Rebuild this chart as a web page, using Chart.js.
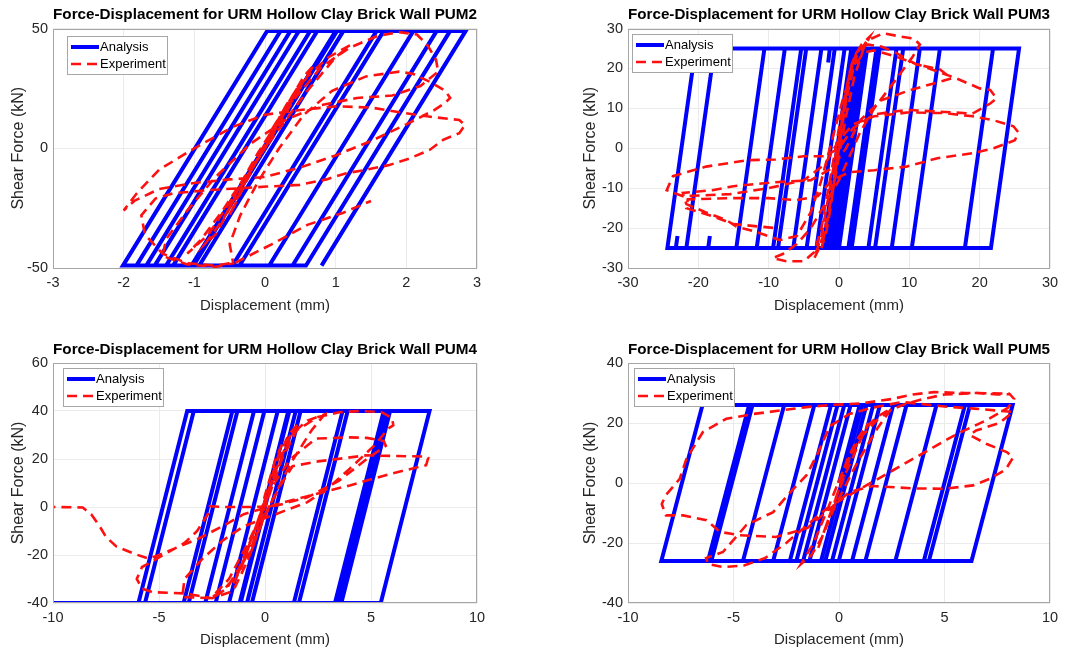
<!DOCTYPE html>
<html>
<head>
<meta charset="utf-8">
<script src="https://cdn.jsdelivr.net/npm/chart.js@4.4.1/dist/chart.umd.min.js"></script>
<style>
  body { margin: 0; background: #fff; }
  #page { position: relative; width: 1082px; height: 653px; overflow: hidden; }
  canvas { position: absolute; }
</style>
</head>
<body>
<div id="page">
  <canvas id="pum2" width="540" height="325" style="left:0;top:0"></canvas>
  <canvas id="pum3" width="542" height="325" style="left:540px;top:0"></canvas>
  <canvas id="pum4" width="540" height="328" style="left:0;top:325px"></canvas>
  <canvas id="pum5" width="542" height="328" style="left:540px;top:325px"></canvas>
</div>
<script>
// ---- data: [displacement mm, shear force kN] ----
const pum2XTicks = [-3, -2, -1, 0, 1, 2, 3];
const pum2YTicks = [-50, 0, 50];
const pum2Analysis = [
  [0,0],[1.02,49],[1.03,49],[-1.01,-49],[-1.04,-49],[1.0,49],[1.11,49],[-0.93,-49],
  [-1.30,-49],[0.74,49],[1.58,49],[-0.46,-49],[-1.40,-49],[0.64,49],[1.68,49],[-0.36,-49],
  [-1.56,-49],[0.48,49],[2.10,49],[0.06,-49],[-1.68,-49],[0.36,49],[2.43,49],[0.39,-49],
  [-1.82,-49],[0.22,49],[2.62,49],[0.58,-49],[-2.01,-49],[0.03,49],[2.84,49],[0.80,-49]
];
const pum2Experiment = [
  [0,0],[0.2,12],[0.4,22],[0.5,27],[0.3,18],[0,2],[-0.2,-10],[-0.4,-22],[-0.5,-28],[-0.35,-18],
  [-0.1,-4],[0.1,8],[0.35,20],[0.55,30],[0.7,35],[0.5,26],[0.2,12],[-0.1,-2],[-0.35,-15],[-0.55,-28],
  [-0.7,-36],[-0.85,-40],[-0.6,-30],[-0.3,-14],[0,0],[0.3,16],[0.6,30],[0.9,38],[1.2,43],[1.0,38],
  [0.6,24],[0.2,8],[-0.2,-8],[-0.6,-26],[-0.9,-38],[-1.1,-44],[-0.8,-36],[-0.4,-18],[0,0],[0.4,20],
  [0.8,34],[1.2,42],[1.6,47],[1.9,48.5],[2.15,47.5],[2.3,43],[2.42,37],[2.45,32],[2.2,26],[1.8,22],
  [1.3,21],[0.8,18],[0.3,12],[-0.2,2],[-0.7,-12],[-1.1,-26],[-1.4,-38],[-1.45,-45],[-1.1,-48.5],[-0.7,-49.5],
  [-0.45,-48],[-0.5,-40],[-0.35,-28],[-0.1,-14],[0.2,0],[0.55,14],[0.95,24],[1.43,30],[1.9,32],[2.1,31],
  [2.33,27.8],[2.55,24],[2.62,21],[2.55,19],[2.4,16],[2.0,10],[1.5,3],[1.0,-3],[0.5,-8],[0,-12],
  [-0.5,-13],[-1.0,-14.5],[-1.5,-17],[-1.85,-22],[-2.0,-26],[-1.82,-19],[-1.5,-9],[-1.0,0],[-0.45,9],[0,14],
  [0.5,16],[1.0,17.5],[1.5,17],[1.9,15],[2.38,13],[2.75,11.8],[2.83,9.7],[2.75,6.3],[2.52,3.5],[2.33,-0.7],
  [2.05,-4.2],[1.76,-7],[1.43,-9],[1.15,-10.4],[0.87,-13],[0.49,-15.3],[0.02,-16],[-0.36,-16.7],[-0.8,-17.5],[-1.3,-18.8],
  [-1.55,-21],[-1.75,-28],[-1.7,-36],[-1.45,-44],[-1.1,-48],[-0.7,-49],[-0.4,-47.5],[0.1,-40],[0.6,-32],[1.1,-27],[1.5,-22]
];

const pum3XTicks = [-30, -20, -10, 0, 10, 20, 30];
const pum3YTicks = [-30, -20, -10, 0, 10, 20, 30];
const pum3Analysis = [
  [0,0],[2.0,25],[3.0,25],[-1.0,-25],[-1.8,-25],[2.2,25],[3.5,25],[-0.5,-25],[-2.0,-25],[2.0,25],
  [4.0,25],[0,-25],[-2.25,-25],[1.75,25],[2.5,25],[-1.5,-25],[-3.2,-25],[0.8,25],[5.34,25],
  [1.34,-25],[-4.6,-25],[-0.6,25],[5.8,25],[1.8,-25],[-6.5,-25],[-2.5,25],[8.18,25],[4.18,-25],[-8.66,-25],
  [-4.66,25],[9.13,25],[5.13,-25],[-9.37,-25],[-5.37,25],[11.5,25],[7.5,-25],[-11.7,-25],[-7.7,25],[-1.3,25],
  [-1.54,21.5],[-1.3,25],[14.35,25],[10.35,-25],[-14.6,-25],[-10.6,25],[21.9,25],[17.9,-25],[-18.6,-25],[-18.36,-22],
  [-18.6,-25],[-21.7,-25],[-17.7,25],[25.6,25],[21.6,-25],[-23.2,-25],[-22.96,-22],[-23.2,-25],[-24.4,-25],[-20.4,25],[-17.7,25]
];
const pum3Experiment = [
  [0,0],[0.5,8],[1.2,16],[1.8,21],[2.5,24],[1.5,18],[0.5,6],[-0.5,-6],[-1.2,-15],[-1.8,-21],
  [-2.5,-25],[-1.5,-17],[-0.5,-5],[0.5,8],[1.3,17],[2.2,23],[3.2,26],[4.4,28],[3.5,25],[2.2,18],
  [1.0,8],[0,-2],[-1.0,-12],[-2.0,-20],[-2.8,-25],[-3.5,-27.5],[-2.5,-22],[-1.5,-12],[-0.5,-2],[0.5,7],
  [1.5,16],[2.5,23],[4,27],[6.3,28.8],[8.7,28],[10.6,27.5],[11.5,26],[10.5,23],[8,17],[5,10],
  [3,4],[1.5,-2],[0,-8],[-2,-14],[-4,-20],[-6,-24],[-8,-26.5],[-9.4,-27.5],[-7.5,-28.3],[-5,-28.3],
  [-3.5,-26],[-2.5,-20],[-1.5,-10],[-0.5,0],[0.5,10],[1.5,19],[2.5,24],[4,26],[6,25.5],[8,24],
  [11,21],[14.3,19.8],[16,17.5],[14,16.5],[10,14.5],[6,12],[3,7],[1,0],[-1,-5],[-4,-8],
  [-9,-8.5],[-15,-9.5],[-18,-10.5],[-22.2,-11.2],[-21.7,-14],[-19,-16],[-16,-18],[-14.6,-19.6],[-11.7,-21],[-8.4,-23],
  [-6,-22],[-4,-16],[-2.5,-8],[-1,2],[0.5,12],[2,20],[3.5,24],[5,24.5],[8,23],[12,20.5],
  [16.7,17.5],[20,15],[21.5,14.6],[22.4,12.5],[21.5,11.2],[19,8.7],[14,9.2],[9.6,9.6],[5,8.5],[2,5],
  [0,0],[-2,-2],[-5,-2],[-9,-2.8],[-13,-3],[-18.9,-4.6],[-23.6,-7],[-24.5,-10.5],[-22.2,-12],[-15.5,-11.5],
  [-10,-10],[-5,-8],[-2,-4],[0,2],[2,6],[5,8],[10,9],[15,8.8],[19,8],[22,7],
  [24.8,5.5],[25.5,4],[25,2],[22,0],[19,-1.25],[14,-2.5],[9.6,-4.6],[5,-5.5],[1.5,-6],[-1,-8],
  [-3,-12],[-6,-13],[-10,-12.5],[-15,-12.5],[-21.5,-12.8],[-21.7,-15],[-18,-17],[-15,-19],[-12,-19.5],[-9,-20]
];

const pum4XTicks = [-10, -5, 0, 5, 10];
const pum4YTicks = [-40, -20, 0, 20, 40, 60];
const pum4Analysis = [
  [0,0],[1.15,40],[-1.15,-40],[-1.2,-40],[1.1,40],[1.45,40],[-0.85,-40],[-1.7,-40],[0.6,40],[1.68,40],
  [-0.62,-40],[-2.33,-40],[-0.03,40],[3.66,40],[1.36,-40],[-2.82,-40],[-0.52,40],[3.9,40],[1.6,-40],[-3.6,-40],
  [-1.3,40],[5.6,40],[3.3,-40],[-3.84,-40],[-1.54,40],[5.79,40],[3.49,-40],[-5.66,-40],[-3.36,40],[5.9,40],
  [3.6,-40],[-5.97,-40],[-3.67,40],[7.76,40],[5.46,-40],[-10,-40]
];
const pum4Experiment = [
  [0,0],[0.4,15],[0.8,26],[0.5,20],[0,5],[-0.4,-10],[-0.8,-22],[-0.5,-15],[0,0],[0.6,20],
  [1.1,30],[1.6,35],[1.0,25],[0.2,8],[-0.5,-10],[-1.1,-25],[-1.5,-32],[-1.0,-22],[-0.3,-5],[0.5,15],
  [1.2,30],[2.0,36],[2.8,38.5],[2.2,32],[1.2,18],[0.3,2],[-0.5,-14],[-1.3,-28],[-2.0,-35],[-2.5,-37.5],
  [-1.7,-30],[-0.8,-15],[0,0],[0.8,20],[1.5,32],[2.5,37.5],[3.5,39.5],[4.5,40],[5.5,39.5],[6,37],
  [6.05,34],[5.8,32.6],[5.2,26],[4,16],[3,8],[2,2],[0.5,-3],[-1,-8],[-2,-14],[-3,-22],
  [-3.8,-30],[-3.9,-37.5],[-2.5,-38],[-1.8,-34],[-1.2,-25],[-0.5,-10],[0.3,8],[1.2,20],[2.4,28.5],[4,29],
  [4.8,28.8],[5.6,27.5],[5.7,25.5],[4.8,20],[3.5,11],[2,4],[0.5,0.5],[-0.6,0],[-1.9,0],[-2.6,0.3],
  [-2.7,-3],[-3.2,-10],[-3.8,-15],[-5,-21],[-5.8,-25],[-6.05,-30],[-5.8,-34],[-5.3,-35.5],[-3.8,-36],[-2.5,-38],
  [-1.5,-35],[-0.8,-22],[0,-3],[0.8,10],[1.3,17],[2.5,19],[4.76,21.5],[7.6,21],[7.7,20.5],[7.6,17.4],
  [6,14],[4,9],[2,4.5],[0.5,1],[-1,-3],[-2,-8],[-3.1,-13],[-5,-20],[-5.5,-21.5],[-6.2,-19.4],
  [-7,-16.5],[-7.5,-12.5],[-7.8,-8],[-8.2,-3],[-8.6,-0.2],[-10,0]
];

const pum5XTicks = [-10, -5, 0, 5, 10];
const pum5YTicks = [-40, -20, 0, 20, 40];
const pum5Analysis = [
  [0,0],[0.98,26],[1.1,26],[-0.85,-26],[-1.4,-26],[0.55,26],[1.3,26],[-0.65,-26],[-1.7,-26],[0.25,26],
  [1.62,26],[-0.33,-26],[-2.02,-26],[-0.07,26],[1.94,26],
  [-0.01,-26],[-2.33,-26],[-0.38,26],[2.57,26],[0.62,-26],[-3.12,-26],[-1.17,26],[3.2,26],[1.25,-26],[-4.55,-26],
  [-2.6,26],[4.62,26],[2.67,-26],[-6.05,-26],[-4.1,26],[5.97,26],[4.02,-26],[-6.21,-26],[-4.26,26],[6.21,26],
  [4.26,-26],[-8.42,-26],[-6.47,26],[8.23,26],[6.28,-26],[3.0,-26]
];
const pum5Experiment = [
  [0,0],[0.4,8],[0.9,15],[1.4,20],[1.0,14],[0.3,3],[-0.3,-8],[-0.7,-16],[-1.0,-22],[-0.6,-14],
  [0,-2],[0.6,10],[1.2,18],[1.8,22],[2.5,25],[1.8,18],[0.8,6],[-0.2,-8],[-0.8,-18],[-1.3,-24],
  [-1.8,-27],[-1.2,-20],[-0.5,-8],[0.3,6],[1.0,15],[1.8,21],[2.5,24.5],[3.2,26.5],[4,28],[5,29.5],
  [6.5,30],[7.5,29.5],[8.1,29.6],[8.3,28],[8,25],[7,21],[5.5,16],[4,10],[2.5,4],[1,-2],
  [-0.5,-8],[-1.5,-14],[-2.5,-20],[-3.5,-25],[-4.5,-27.5],[-5.5,-28],[-6.2,-27],[-6.3,-25],[-5.5,-23],[-4.39,-14],
  [-3.12,-9.7],[-2.3,-3],[-1.54,2.6],[-1,10],[-0.43,19],[0.5,23],[1.5,25],[3,27],[5,25.5],[6.4,24.8],
  [8.25,23.7],[7.6,20],[6.5,17.5],[6.2,16],[7,13],[7.95,10.3],[8.25,8.5],[7.9,4.5],[7.15,1.4],[6.36,-0.8],
  [5,-1.9],[3.5,-1.8],[1.6,-1],[0.5,-3],[-0.5,-9],[-1.5,-15],[-3,-18],[-4.7,-17.4],[-5.64,-16.3],[-6.28,-12.4],
  [-7.39,-10.8],[-8.2,-10.8],[-8.4,-7],[-8.2,-4],[-7.55,1.4],[-7.23,8.1],[-6.45,17],[-5.34,21.4],[-4.07,23],[-1.54,25.3],
  [-0.43,26],[1,26.5],[2.5,28],[3.5,29.5],[4.5,30.3],[6,30],[8.1,29.8]
];

// ---- helpers ----
const FONT = '"Liberation Sans", Arial, sans-serif';
const toXY = pts => pts.map(p => ({ x: p[0], y: p[1] }));

// legend box drawn inside the axes, top-left like the original
const insideLegend = {
    id: 'insideLegend',
    afterDraw(chart, args, opts) {
        const { ctx, chartArea } = chart;
        const x = Math.round(chartArea.left + opts.dx), y = Math.round(chartArea.top + opts.dy);
        ctx.save();
        ctx.fillStyle = '#fff';
        ctx.fillRect(x, y, 100, 38);
        ctx.strokeStyle = '#a6a6a6';
        ctx.lineWidth = 1;
        ctx.strokeRect(x + 0.5, y + 0.5, 100, 38);
        chart.data.datasets.forEach((ds, i) => {
            const ry = y + 11 + i * 17;
            ctx.beginPath();
            ctx.setLineDash(ds.borderDash || []);
            ctx.lineWidth = ds.borderWidth;
            ctx.strokeStyle = ds.borderColor;
            ctx.moveTo(x + 4, ry);
            ctx.lineTo(x + 32, ry);
            ctx.stroke();
            ctx.setLineDash([]);
            ctx.fillStyle = '#000';
            ctx.font = '13px ' + FONT;
            ctx.textBaseline = 'middle';
            ctx.fillText(ds.label, x + 33, ry);
        });
        ctx.restore();
    }
};

// grey box round the axes (MATLAB "box on")
const axesBox = {
    id: 'axesBox',
    afterDatasetsDraw(chart) {
        const { ctx, chartArea: a } = chart;
        ctx.save();
        ctx.strokeStyle = '#a6a6a6';
        ctx.lineWidth = 1;
        ctx.strokeRect(Math.round(a.left) + 0.5, Math.round(a.top) + 0.5,
            Math.round(a.right - a.left) - 1, Math.round(a.bottom - a.top) - 1);
        ctx.restore();
    }
};

function makeChart(id, title, analysis, experiment, xTicks, yTicks, box) {
    const ctx = document.getElementById(id).getContext('2d');
    const w = ctx.canvas.width, h = ctx.canvas.height;
    new Chart(ctx, {
        type: 'scatter',
        data: {
            datasets: [{
                label: 'Analysis',
                data: toXY(analysis),
                showLine: true,
                borderColor: '#0000ff',
                borderWidth: 4,
                pointRadius: 0,
                order: 2
            }, {
                label: 'Experiment',
                data: toXY(experiment),
                showLine: true,
                borderColor: '#ff1010',
                borderWidth: 2.6,
                borderDash: [10, 6],
                pointRadius: 0,
                order: 1
            }]
        },
        options: {
            responsive: false,
            animation: false,
            devicePixelRatio: 1,
            layout: { padding: { left: box.padL, right: w - box.right, top: box.padT, bottom: 0 } },
            plugins: {
                legend: { display: false },
                tooltip: { enabled: false },
                title: {
                    display: true,
                    text: title,
                    fullSize: false,
                    color: '#000',
                    font: { family: FONT, size: 15.5, weight: 'bold' },
                    padding: box.titlePad
                },
                insideLegend: { dx: box.legend[0], dy: box.legend[1] }
            },
            scales: {
                x: {
                    type: 'linear',
                    min: xTicks[0],
                    max: xTicks[xTicks.length - 1],
                    afterBuildTicks: s => { s.ticks = xTicks.map(v => ({ value: v })); },
                    afterFit: s => { s.height = h - box.bottom; },
                    grid: { color: '#ebebeb', drawTicks: false },
                    border: { display: false },
                    ticks: { color: '#262626', font: { family: FONT, size: 14.5 }, padding: 6, maxRotation: 0 },
                    title: { display: true, text: 'Displacement (mm)', color: '#262626',
                        font: { family: FONT, size: 15 }, padding: { top: 0, bottom: box.xTitleBottom } }
                },
                y: {
                    type: 'linear',
                    min: yTicks[0],
                    max: yTicks[yTicks.length - 1],
                    afterBuildTicks: s => { s.ticks = yTicks.map(v => ({ value: v })); },
                    afterFit: s => { s.width = box.left - box.padL; },
                    grid: { color: '#ebebeb', drawTicks: false },
                    border: { display: false },
                    ticks: { color: '#262626', font: { family: FONT, size: 14.5 }, padding: 5 },
                    title: { display: true, text: 'Shear Force (kN)', color: '#262626',
                        font: { family: FONT, size: 16 }, padding: { top: 9.4, bottom: 0 } }
                }
            }
        },
        plugins: [axesBox, insideLegend]
    });
}

const topRow = { padT: 0, titlePad: { top: 5.7, bottom: 4.2 }, bottom: 268, xTitleBottom: 10 };
const bottomRow = { padT: 8, titlePad: { top: 7.7, bottom: 3.7 }, bottom: 278, xTitleBottom: 4 };

makeChart('pum2', 'Force-Displacement for URM Hollow Clay Brick Wall PUM2', pum2Analysis, pum2Experiment,
    pum2XTicks, pum2YTicks, Object.assign({ padL: 0, left: 53, right: 477, legend: [14, 7] }, topRow));
makeChart('pum3', 'Force-Displacement for URM Hollow Clay Brick Wall PUM3', pum3Analysis, pum3Experiment,
    pum3XTicks, pum3YTicks, Object.assign({ padL: 32, left: 88, right: 510, legend: [4, 5] }, topRow));
makeChart('pum4', 'Force-Displacement for URM Hollow Clay Brick Wall PUM4', pum4Analysis, pum4Experiment,
    pum4XTicks, pum4YTicks, Object.assign({ padL: 0, left: 53, right: 477, legend: [10, 5] }, bottomRow));
makeChart('pum5', 'Force-Displacement for URM Hollow Clay Brick Wall PUM5', pum5Analysis, pum5Experiment,
    pum5XTicks, pum5YTicks, Object.assign({ padL: 32, left: 88, right: 510, legend: [6, 5] }, bottomRow));
</script>
</body>
</html>
